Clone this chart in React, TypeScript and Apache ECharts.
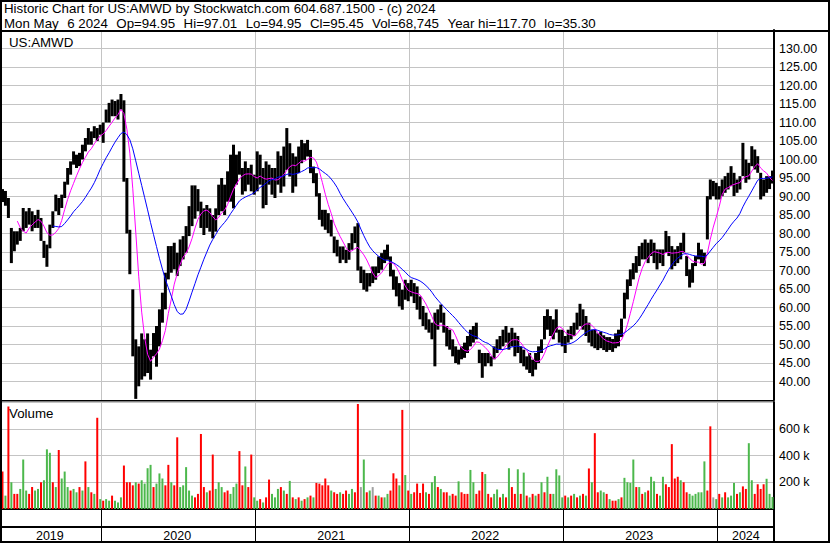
import React, { useEffect, useRef } from "react";
import * as echarts from "echarts";

// ---------- header / labels ----------
const TITLE_LINE_1 = "Historic Chart for US:AMWD by Stockwatch.com 604.687.1500 - (c) 2024";
const TITLE_LINE_2 =
  "Mon May  6 2024  Op=94.95  Hi=97.01  Lo=94.95  Cl=95.45  Vol=68,745  Year hi=117.70  lo=35.30";
const SYMBOL_LABEL = "US:AMWD";
const VOLUME_LABEL = "Volume";

// first weekly bar (Monday)
const START_WEEK = "2019-05-13";

// ---------- weekly price ranges [low, high] ----------
const PRICE_2019: [number, number][] = [
  [88.5, 92], [87.5, 91.5], [84.2, 89.6], [72, 81.5], [75.2, 80.6], [77, 80.6], [78, 81.5], [80.6, 86.9],
  [81.5, 86], [82.4, 86.9], [80.6, 86], [81.5, 85], [81.5, 86.4], [78, 84.2], [73.4, 78], [71, 77],
  [76, 82.4], [81.5, 86], [86, 90.5], [85, 89.6], [86.9, 90.5], [89.6, 94], [93.2, 97.7], [95.9, 99.5],
  [98.6, 102.2], [97.7, 101.3], [98.2, 101.8], [100, 104], [102.2, 105.8], [104, 108.5], [104, 107.6],
  [105.8, 109], [105, 108.5], [106.7, 109.4],
];
const PRICE_2020: [number, number][] = [
  [104.5, 110], [110, 113.5], [110, 115.3], [111.7, 116.2], [111.7, 115.8], [110.8, 116.2], [113.5, 117.7],
  [94, 116], [80, 95], [69, 81], [46.8, 64.9], [35.3, 51.4], [38.7, 49.5], [40.5, 53], [41.4, 51.4],
  [42.3, 53], [40.5, 48.6], [46.8, 53.1], [44, 55], [49.5, 59.5], [55.9, 64], [59.5, 69.4], [67.6, 76.6],
  [69.4, 76.6], [70.3, 77.5], [68.5, 74.8], [71.2, 78.4], [73, 79.3], [74.8, 82], [79.3, 87.4], [82, 93],
  [84, 93], [86, 92], [81.5, 88.6], [79.6, 86.8], [81.5, 87.7], [80.5, 86.8], [78.7, 85], [80.5, 86.8],
  [85, 93.2], [86, 95], [85, 93.2], [88.6, 96.8], [88.6, 101.3], [86.8, 104], [93.2, 101.3], [95.9, 102.2],
  [90.5, 97.7], [91.4, 99.5], [93.2, 97.7], [91.4, 98.6], [90.5, 95.9],
];
const PRICE_2021: [number, number][] = [
  [91.4, 102.2], [93.2, 101.3], [86.8, 97.7], [87.7, 99.5], [93.2, 98.6], [90.5, 97.7], [89.6, 97.7],
  [93.2, 102.2], [91, 101], [92.7, 103.5], [97.2, 108.5], [95.4, 104.4], [91, 101.7], [92.7, 100.8],
  [96.3, 103.5], [99, 105.3], [99.9, 104.4], [100.8, 105.3], [96.3, 102.6], [93.6, 98.1], [90, 96.3],
  [83.7, 90.9], [81.9, 86.4], [81, 86.4], [80.1, 85.5], [79.2, 83.7], [74.7, 79.2], [73.8, 78.3],
  [72, 76.5], [72.9, 76.5], [72, 75.6], [72.9, 77.4], [75.6, 80.1], [77.4, 81.9], [70, 82.8], [66.6, 71.1],
  [64.8, 70.2], [64.3, 69.3], [65.7, 69.3], [66.6, 71.1], [67.5, 71.1], [69.3, 73.8], [70.2, 74.7],
  [72, 75.6], [72.9, 77], [68.4, 73.8], [64.8, 70.2], [63, 68.4], [60.3, 66.6], [59.4, 64.8], [62.1, 67.5],
  [61.7, 66.6],
];
const PRICE_2022: [number, number][] = [
  [63, 67.5], [61.2, 66.6], [59.4, 65.7], [56.8, 63], [55, 60.4], [54, 58.6], [53.2, 56.8], [51.4, 55.9],
  [44.1, 58.6], [54, 59.5], [55.9, 60.8], [53.2, 58.6], [49.5, 55], [48.6, 54], [46.8, 51.4], [45, 49.5],
  [44.6, 48.6], [46, 49.5], [46.4, 50.5], [47.7, 52.3], [49.5, 54], [50.5, 55], [51.4, 55.9], [45, 48.6],
  [41, 47.7], [44.1, 47.7], [45, 47.7], [44.1, 46.8], [46, 49.5], [47.7, 51.4], [48.6, 52.3], [49.5, 54],
  [50.5, 55], [48.6, 53.2], [49.5, 54.5], [46.8, 53.2], [47.7, 52.3], [45, 49.5], [44.1, 48.6],
  [43.2, 46.8], [42.3, 47.7], [41.4, 45.9], [43.2, 47.7], [45, 49.5], [47.7, 51.4], [51.4, 57.7],
  [54, 59.5], [52.3, 57.7], [51.4, 56.8], [53.2, 59.5], [50.5, 54], [49.5, 54],
];
const PRICE_2023: [number, number][] = [
  [47.7, 52.3], [50.5, 54], [51.4, 55], [52.3, 55.9], [54, 58.6], [55, 61], [54, 59.5], [52.3, 57.7],
  [50.5, 55.9], [49.5, 54], [49, 54], [48.5, 53], [49, 53.5], [48.5, 52.5], [48, 52], [48.5, 52],
  [48, 51.5], [49, 53], [49.5, 54], [52, 57], [57, 64], [62.2, 67.6], [65.8, 70.3], [67.6, 72],
  [69.4, 73.9], [71.2, 76.6], [73, 77.5], [73, 78.4], [72, 77.5], [73.9, 78.4], [72, 77.5], [70.3, 75.7],
  [72, 75.7], [71.2, 75.7], [74.8, 80.7], [73.9, 79.3], [70.3, 76.6], [71.2, 75.7], [72, 76.6], [73, 77.5],
  [74.8, 80.2], [68.5, 73.9], [65.4, 70.3], [66.7, 72], [71.2, 73.9], [73, 77.5], [72, 75.7], [71.2, 74.8],
  [78.4, 90.1], [89.2, 94.6], [90.1, 94.2], [89.2, 93.7],
];
const PRICE_2024: [number, number][] = [
  [89.2, 92.8], [90.1, 94.6], [91, 95.5], [91.9, 96.4], [92.8, 98.2], [90.1, 96.4], [91, 94.6], [91.9, 95.5],
  [95.5, 104.5], [93.7, 100], [94.6, 99.1], [98.2, 103.6], [97.3, 102.7], [96.4, 100.9], [89.2, 96.4],
  [90.1, 94.6], [91, 95.5], [92, 95.5], [93.5, 97.01],
];

// ---------- weekly volume (thousands) and bar colour (r = down, g = up, n = unchanged) ----------
const VOL_2019 = [280, 100, 767, 200, 113, 113, 150, 370, 138, 113, 164, 138, 150, 200, 215, 446, 420, 200, 164, 441,
  228, 280, 164, 138, 150, 125, 164, 138, 356, 164, 125, 113, 682, 74];
const DIR_2019 = "rgrgrrgggrrggrgggrgrgggrggrgrgrgrg";
const VOL_2020 = [62, 74, 62, 100, 62, 49, 87, 325, 200, 200, 177, 200, 190, 215, 190, 305, 330, 164, 190, 266,
  228, 177, 330, 200, 177, 536, 164, 177, 313, 138, 100, 87, 113, 561, 164, 125, 138, 407, 150, 200,
  164, 125, 138, 113, 164, 190, 433, 177, 318, 164, 407, 87];
const DIR_2020 = "rggrgggrrrrgrggggrgggrrgrrgggggrrrrgrrgggrrgggrrgrrg";
const VOL_2021 = [62, 74, 49, 87, 220, 113, 87, 150, 164, 138, 113, 210, 87, 74, 87, 62, 74, 87, 100, 87,
  195, 190, 177, 228, 177, 138, 125, 113, 125, 113, 138, 113, 150, 125, 785, 164, 370, 125, 138, 164,
  100, 100, 87, 87, 113, 138, 267, 228, 177, 741, 254, 138];
const DIR_2021 = "grgrrgggrgrgrgrgrgrgrrrrrgrrgrrggrrngrgnrgrggrrrgrgr";
const VOL_2022 = [113, 125, 190, 120, 190, 125, 113, 200, 246, 164, 150, 125, 125, 100, 113, 100, 207, 125, 113, 113,
  292, 200, 113, 138, 277, 261, 113, 87, 113, 146, 87, 113, 87, 305, 164, 113, 297, 113, 272, 100,
  87, 113, 100, 113, 200, 125, 241, 113, 113, 297, 251, 87];
const DIR_2022 = "grrrrgrggrgrrgrrgrrrggrrrgrrggrgrgrrgrgrgrgrgrgrgggg";
const VOL_2023 = [100, 87, 100, 113, 87, 100, 113, 100, 303, 200, 567, 125, 138, 125, 113, 74, 62, 62, 74, 87,
  233, 200, 195, 370, 164, 164, 113, 125, 138, 241, 207, 113, 100, 241, 185, 164, 485, 228, 241, 215,
  200, 125, 113, 100, 113, 125, 125, 356, 138, 618, 87, 74];
const DIR_2023 = "rgrgrgrgrgrrggrgrrgrggggrgrgrggrggrrrrrgrrggggggrrng";
const VOL_2024 = [113, 87, 125, 87, 100, 195, 113, 125, 169, 150, 492, 215, 113, 185, 150, 185, 226, 113, 90];
const DIR_2024 = "rgrgggrgrrggrrrrggg";

// moving average windows (weeks)
const MA_FAST = 6;
const MA_SLOW = 18;

const PRICE_MIN = 35;
const PRICE_MAX = 135;
const PRICE_STEP = 5;
const VOL_MAX = 800000;
const VOL_STEP = 200000;

const COLORS = {
  bar: "#000000",
  maFast: "#ff00ff",
  maSlow: "#0000ff",
  up: "#4cb84c",
  down: "#ff0000",
  flat: "#a0a0a0",
  grid: "#c4c4c4",
};

const FONT = '"Liberation Sans", Arial, Helvetica, sans-serif';
const HEADER_SIZE = 13.3;

function buildWeeks(n: number): string[] {
  const out: string[] = [];
  const t0 = Date.parse(START_WEEK + "T00:00:00Z");
  for (let i = 0; i < n; i++) {
    out.push(new Date(t0 + i * 7 * 86400000).toISOString().slice(0, 10));
  }
  return out;
}

function sma(vals: number[], n: number): (number | string)[] {
  return vals.map((_, i) => {
    if (i < n - 1) return "-";
    let s = 0;
    for (let k = i - n + 1; k <= i; k++) s += vals[k];
    return +(s / n).toFixed(3);
  });
}

// split a line on its double spaces and place each piece where the full line would put it
function spacedPieces(line: string, size: number): { text: string; dx: number }[] {
  const canvas = document.createElement("canvas");
  const ctx = canvas.getContext("2d");
  const measure = (s: string) => {
    if (!ctx) return s.length * size * 0.55;
    ctx.font = `${size}px ${FONT}`;
    return ctx.measureText(s).width;
  };
  const parts = line.split("  ");
  const gap = measure(" ") * 2 + 1.1;
  const out: { text: string; dx: number }[] = [];
  let x = 0;
  parts.forEach((p) => {
    out.push({ text: p, dx: x });
    x += measure(p) + gap;
  });
  return out;
}

export default function App() {
  const ref = useRef<HTMLDivElement>(null);

  useEffect(() => {
    if (!ref.current) return;
    const chart = echarts.init(ref.current, undefined, { renderer: "svg" });

    const prices = [...PRICE_2019, ...PRICE_2020, ...PRICE_2021, ...PRICE_2022, ...PRICE_2023, ...PRICE_2024];
    const vols = [...VOL_2019, ...VOL_2020, ...VOL_2021, ...VOL_2022, ...VOL_2023, ...VOL_2024];
    const dirs = (DIR_2019 + DIR_2020 + DIR_2021 + DIR_2022 + DIR_2023 + DIR_2024).split("");
    const weeks = buildWeeks(prices.length);

    const yearOf = (i: number) => weeks[i].slice(0, 4);
    const isYearStart = (i: number) => i > 0 && yearOf(i) !== yearOf(i - 1);
    const firstIdx: Record<string, number> = {};
    const lastIdx: Record<string, number> = {};
    weeks.forEach((w, i) => {
      const y = w.slice(0, 4);
      if (firstIdx[y] === undefined) firstIdx[y] = i;
      lastIdx[y] = i;
    });
    const midSet = new Set(Object.keys(firstIdx).map((y) => Math.floor((firstIdx[y] + lastIdx[y]) / 2)));

    const mids = prices.map((p) => (p[0] + p[1]) / 2);
    const maFast = sma(mids, MA_FAST);
    const maSlow = sma(mids, MA_SLOW);

    const colorOf = (d: string) => (d === "r" ? COLORS.down : d === "g" ? COLORS.up : COLORS.flat);

    const L = 1;
    const R = 56;

    const baseX = (gridIndex: number, extra: any = {}) => ({
      type: "category",
      gridIndex,
      data: weeks,
      boundaryGap: true,
      axisTick: { show: false },
      axisLabel: { show: false },
      axisLine: { show: false },
      ...extra,
    });

    const headerText = (text: string, x: number, y: number) => ({
      type: "text",
      x,
      y,
      style: { text, fill: "#000", fontSize: HEADER_SIZE, fontFamily: FONT, verticalAlign: "middle" },
    });

    const line2 = spacedPieces(TITLE_LINE_2, HEADER_SIZE).map((p) => headerText(p.text, 4 + p.dx, 23));

    const option: any = {
      animation: false,
      backgroundColor: "#ffffff",
      textStyle: { fontFamily: FONT },
      grid: [
        { left: L, right: R, top: 30, height: 370 },
        { left: L, right: R, top: 402, height: 107, show: true, borderColor: "#000", borderWidth: 1, backgroundColor: "transparent" },
        { left: L, right: R, top: 509, height: 18 },
        { left: L, right: R, top: 528, height: 13 },
      ],
      xAxis: [
        baseX(0, {
          axisLine: { show: true, onZero: false, lineStyle: { color: "#000", width: 1 } },
          splitLine: { show: true, interval: (i: number) => isYearStart(i), lineStyle: { color: COLORS.grid, width: 1 } },
        }),
        baseX(1, {
          axisLine: { show: true, onZero: false, lineStyle: { color: "#000", width: 2 } },
          splitLine: { show: true, interval: (i: number) => isYearStart(i), lineStyle: { color: COLORS.grid, width: 1 } },
        }),
        baseX(2, {
          axisLine: { show: true, onZero: false, lineStyle: { color: "#000", width: 2 } },
          splitLine: { show: true, interval: (i: number) => isYearStart(i), lineStyle: { color: "#000", width: 1 } },
        }),
        baseX(3, {
          position: "top",
          splitLine: { show: true, interval: (i: number) => isYearStart(i), lineStyle: { color: "#000", width: 1 } },
          axisLabel: {
            show: true,
            inside: true,
            margin: 1,
            interval: (i: number) => midSet.has(i),
            formatter: (v: string) => v.slice(0, 4),
            fontSize: 12.5,
            fontFamily: FONT,
            color: "#000",
          },
        }),
      ],
      yAxis: [
        {
          type: "value",
          gridIndex: 0,
          position: "right",
          min: PRICE_MIN,
          max: PRICE_MAX,
          interval: PRICE_STEP,
          axisLine: { show: true, lineStyle: { color: "#000", width: 2 } },
          axisTick: { show: false },
          axisLabel: {
            margin: 5,
            fontSize: 12.5,
            fontFamily: FONT,
            color: "#000",
            formatter: (v: number) => (v >= 40 && v <= 130 ? v.toFixed(2) : ""),
          },
          splitLine: { show: true, lineStyle: { color: COLORS.grid, width: 1 } },
        },
        {
          type: "value",
          gridIndex: 1,
          position: "right",
          min: 0,
          max: VOL_MAX,
          interval: VOL_STEP,
          axisLine: { show: true, lineStyle: { color: "#000", width: 2 } },
          axisTick: { show: false },
          axisLabel: {
            margin: 5,
            fontSize: 12.5,
            fontFamily: FONT,
            color: "#000",
            formatter: (v: number) => (v > 0 && v < VOL_MAX ? `${v / 1000} k` : ""),
          },
          splitLine: { show: true, lineStyle: { color: COLORS.grid, width: 1 } },
        },
        {
          type: "value", gridIndex: 2, position: "right", min: 0, max: 1,
          axisLine: { show: true, lineStyle: { color: "#000", width: 2 } },
          axisTick: { show: false }, axisLabel: { show: false }, splitLine: { show: false },
        },
        {
          type: "value", gridIndex: 3, position: "right", min: 0, max: 1,
          axisLine: { show: true, lineStyle: { color: "#000", width: 2 } },
          axisTick: { show: false }, axisLabel: { show: false }, splitLine: { show: false },
        },
      ],
      series: [
        {
          type: "custom",
          name: "price",
          xAxisIndex: 0,
          yAxisIndex: 0,
          clip: true,
          encode: { x: 0, y: [1, 2] },
          data: prices.map((p, i) => [i, p[0], p[1]]),
          renderItem: (params: any, api: any) => {
            const lo = api.coord([api.value(0), api.value(1)]);
            const hi = api.coord([api.value(0), api.value(2)]);
            return {
              type: "line",
              shape: { x1: lo[0], y1: lo[1], x2: hi[0], y2: hi[1] },
              style: { stroke: COLORS.bar, lineWidth: 3 },
            };
          },
        },
        {
          type: "line",
          name: "MA fast",
          xAxisIndex: 0,
          yAxisIndex: 0,
          data: maFast,
          showSymbol: false,
          lineStyle: { color: COLORS.maFast, width: 1 },
          itemStyle: { color: COLORS.maFast },
        },
        {
          type: "line",
          name: "MA slow",
          xAxisIndex: 0,
          yAxisIndex: 0,
          data: maSlow,
          showSymbol: false,
          lineStyle: { color: COLORS.maSlow, width: 1 },
          itemStyle: { color: COLORS.maSlow },
        },
        {
          type: "bar",
          name: "Volume",
          xAxisIndex: 1,
          yAxisIndex: 1,
          barWidth: 2,
          data: vols.map((v, i) => ({ value: v * 1000, itemStyle: { color: colorOf(dirs[i]) } })),
        },
      ],
      graphic: [
        headerText(TITLE_LINE_1, 4, 8.5),
        ...line2,
        headerText(SYMBOL_LABEL, 9, 42),
        headerText(VOLUME_LABEL, 9, 413),
        {
          type: "line",
          shape: { x1: 0, y1: 31, x2: 830, y2: 31 },
          style: { stroke: "#000", lineWidth: 2 },
          z: 100,
        },
        {
          type: "rect",
          shape: { x: 1, y: 1, width: 828, height: 541 },
          style: { fill: "none", stroke: "#000", lineWidth: 2 },
          z: 100,
        },
      ],
    };

    chart.setOption(option);
    return () => chart.dispose();
  }, []);

  return (
    <div
      ref={ref}
      style={{ position: "fixed", left: 0, top: 0, width: 830, height: 543, background: "#fff" }}
    />
  );
}
